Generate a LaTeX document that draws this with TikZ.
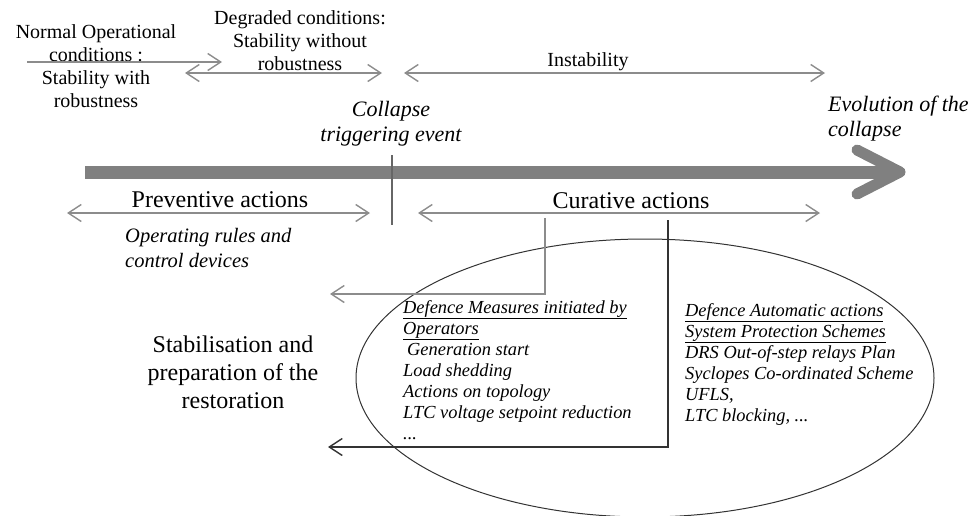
\documentclass[tikz,border=0pt]{standalone}
\usepackage{fontspec}
\setmainfont{Liberation Serif}[Ligatures=TeX]
\newfontfamily\tms{Liberation Serif}
\usetikzlibrary{arrows.meta}

\begin{document}
\begin{tikzpicture}[
  x=1pt, y=-1pt,
  >={Straight Barb[length=13pt,width=17pt]},
  lbl/.style={inner sep=0pt, align=center, font=\tms\fontsize{20}{23}\selectfont},
  hdr/.style={inner sep=0pt, align=center, font=\tms\fontsize{24}{28}\selectfont},
  note/.style={inner sep=0pt, align=left, font=\tms\fontsize{22}{25}\selectfont\itshape},
  list/.style={inner sep=0pt, align=left, anchor=north west, font=\tms\fontsize{18.4}{21}\selectfont\itshape},
  span/.style={<->, draw=black!45, line width=1.4pt},
  feed/.style={->, line width=1.4pt},
]
\useasboundingbox (0,0) rectangle (972,515);

% ---- system states ----
\node[lbl, anchor=north] (normal) at (96,24) {Normal Operational\\conditions :\\Stability with\\robustness};
\node[lbl, anchor=north] (degraded) at (300,10) {Degraded conditions:\\Stability without\\robustness};
\node[lbl] (instab) at (588,62) {Instability};
\coordinate (n0) at (27,62);
\coordinate (n1) at (222,62);
\coordinate (d0) at (185,73);
\coordinate (d1) at (382,73);
\coordinate (i0) at (404,73);
\coordinate (i1) at (825,73);
\draw[->, draw=black!45, line width=1.4pt] (n0) -- (n1);
\draw[span] (d0) -- (d1);
\draw[span] (i0) -- (i1);

% ---- time line of the collapse ----
\coordinate (tl0) at (85,172);
\coordinate (tl1) at (893,172);
\coordinate (hd1) at (857,150);
\coordinate (tip) at (900,172);
\coordinate (hd2) at (857,194);
\draw[line width=13pt, draw=gray] (tl0) -- (tl1);
\draw[line width=11pt, draw=gray, line cap=round, line join=round] (hd1) -- (tip) -- (hd2);
\node[note, align=center, anchor=north] (trig) at (391,101) {Collapse\\triggering event};
\node[note, anchor=north west] (evol) at (828,96) {Evolution of the\\collapse};
\coordinate (ev0) at (392,155);
\coordinate (ev1) at (392,225);
\draw[line width=1.3pt, draw=black!60] (ev0) -- (ev1);

% ---- actions ----
\node[hdr, anchor=base] (prev) at (220,207) {Preventive actions};
\node[hdr, anchor=base] (cura) at (631,208) {Curative actions};
\coordinate (prevL) at (67,213);
\coordinate (prevR) at (370,213);
\coordinate (curaL) at (418,213);
\coordinate (curaR) at (820,213);
\draw[span] (prevL) -- (prevR);
\draw[span] (curaL) -- (curaR);
\node[note, font=\tms\fontsize{20.5}{25}\selectfont\itshape, anchor=north west] (rules) at (125,228) {Operating rules and\\control devices};

% ---- defence plan ----
\coordinate (oval) at (645,378);
\draw[draw=black!80, line width=1pt] (oval) ellipse [x radius=289, y radius=139];
\node[hdr, anchor=north] (stab) at (233,336) {Stabilisation and\\preparation of the\\restoration};
\node[list] (oper) at (403,300) {\underline{Defence Measures initiated by}\\\underline{Operators}\\\hspace*{4pt}Generation start\\Load shedding\\Actions on topology\\LTC voltage setpoint reduction\\...};
\node[list] (auto) at (685,303) {\underline{Defence Automatic actions}\\\underline{System Protection Schemes}\\DRS Out-of-step relays Plan\\Syclopes Co-ordinated Scheme\\UFLS,\\LTC blocking, ...};

\coordinate (opsTop) at (545,218);
\coordinate (opsEnd) at (330,294);
\coordinate (autTop) at (668,220);
\coordinate (autEnd) at (328,447);
\draw[feed, draw=black!45] (opsTop) |- (opsEnd);
\draw[feed, draw=black!80] (autTop) |- (autEnd);
\end{tikzpicture}
\end{document}
